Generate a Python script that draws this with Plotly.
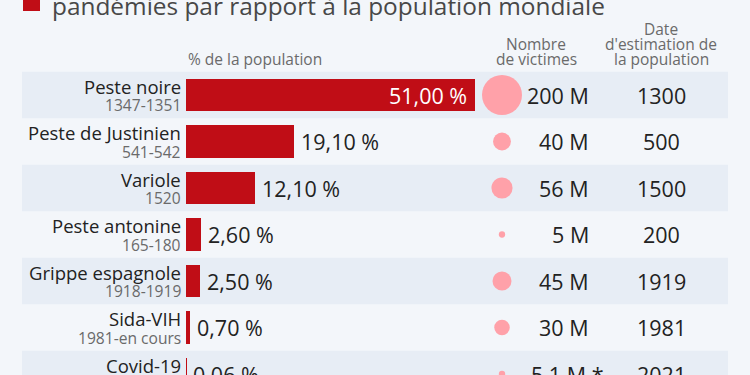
import plotly.graph_objects as go

# ---------------- data ----------------
categories = ["Peste noire", "Peste de Justinien", "Variole", "Peste antonine",
              "Grippe espagnole", "Sida-VIH", "Covid-19"]
periods = ["1347-1351", "541-542", "1520", "165-180", "1918-1919", "1981-en cours", "2020-2021"]
pct_population = [51.00, 19.10, 12.10, 2.60, 2.50, 0.70, 0.06]
victims_millions = [200, 40, 56, 5, 45, 30, 5.1]
victims_labels = ["200 M", "40 M", "56 M", "5 M", "45 M", "30 M", "5,1 M *"]
estimation_year = ["1300", "500", "1500", "200", "1919", "1981", "2021"]

title_text = "pandémies par rapport à la population mondiale"

# ---------------- style ----------------
W, H = 750, 375
BG = "#f3f6fa"
STRIPE = "#e7edf5"
RED = "#c00d16"
PINK = "#ffa1a9"
DARK = "#222222"
GREY = "#6a6a6a"
FONT = "Open Sans"

def px(x):
    return x / W

def py(y):
    return 1 - y / H

bar_left = 186
px_per_pct = 289 / 51.0
x_range_max = (W - bar_left) / px_per_pct

row0_center = 95
row_pitch = 46.5
n = len(categories)
y_top = -row0_center / row_pitch
y_bottom = (H - row0_center) / row_pitch

fig = go.Figure()

fig.add_trace(go.Bar(
    x=pct_population, y=categories, orientation="h",
    marker=dict(color=RED, line=dict(width=0)),
    width=0.7, hoverinfo="skip", showlegend=False,
))

fig.add_trace(go.Scatter(
    x=[502] * n, y=categories, xaxis="x2", yaxis="y",
    mode="markers",
    marker=dict(size=victims_millions, sizemode="area",
                sizeref=2 * max(victims_millions) / 40 ** 2,
                color=PINK, opacity=1, line=dict(width=0)),
    hoverinfo="skip", showlegend=False,
))

shapes = []
for i, c in enumerate(categories):
    if i % 2 == 0:
        shapes.append(dict(type="rect", xref="paper", yref="y",
                           x0=px(22), x1=px(728), y0=i - 0.5, y1=i + 0.5,
                           fillcolor=STRIPE, line=dict(width=0), layer="below"))
# red legend square for title
shapes.append(dict(type="rect", xref="paper", yref="paper",
                   x0=px(23), x1=px(40), y0=py(11), y1=py(-6),
                   fillcolor=RED, line=dict(width=0)))

ann = []
# title
ann.append(dict(text=title_text, xref="paper", yref="paper", x=px(50), y=py(24),
                xanchor="left", yanchor="bottom", showarrow=False,
                font=dict(family=FONT, size=24.4, color="#484848")))
# headers
def header(t, x, y, anchor="center"):
    ann.append(dict(text=t, xref="paper", yref="paper", x=px(x), y=py(y),
                    xanchor=anchor, yanchor="middle", showarrow=False,
                    font=dict(family=FONT, size=15.5, color=GREY)))
header("% de la population", 186, 59, "left")
header("Nombre", 536, 44)
header("de victimes", 536, 59)
header("Date", 661, 29)
header("d'estimation de", 661, 44)
header("la population", 661, 59)

for i, c in enumerate(categories):
    ann.append(dict(text=c, xref="paper", yref="y", x=px(183), y=c, yshift=9,
                    xanchor="right", yanchor="middle", showarrow=False,
                    font=dict(family=FONT, size=18.5, color=DARK)))
    ann.append(dict(text=periods[i], xref="paper", yref="y", x=px(183), y=c, yshift=-10,
                    xanchor="right", yanchor="middle", showarrow=False,
                    font=dict(family=FONT, size=15.6, color=GREY)))
    v = pct_population[i]
    label = f"{v:.2f}".replace(".", ",") + " %"
    inside = v > 30
    ann.append(dict(text=label, xref="x", yref="y", x=v, y=c,
                    xanchor="right" if inside else "left",
                    xshift=-7 if inside else 6, borderpad=0,
                    yanchor="middle", showarrow=False,
                    font=dict(family=FONT, size=21.5, color="white" if inside else DARK)))
    vl = victims_labels[i]
    ann.append(dict(text=vl, xref="x2", yref="y", x=591, y=c,
                    xshift=15 if vl.endswith("*") else 0,
                    xanchor="right", yanchor="middle", showarrow=False,
                    font=dict(family=FONT, size=21.5, color=DARK)))
    ann.append(dict(text=estimation_year[i], xref="x2", yref="y", x=661, y=c,
                    xanchor="center", yanchor="middle", showarrow=False,
                    font=dict(family=FONT, size=21.5, color=DARK)))

fig.update_layout(
    width=W, height=H,
    margin=dict(l=0, r=0, t=0, b=0),
    paper_bgcolor=BG, plot_bgcolor="rgba(0,0,0,0)",
    xaxis=dict(domain=[px(bar_left), 1], range=[0, x_range_max], visible=False, fixedrange=True),
    xaxis2=dict(domain=[0, 1], range=[0, W], visible=False, anchor="y", fixedrange=True),
    yaxis=dict(domain=[0, 1], type="category", categoryarray=categories,
               range=[y_bottom, y_top], visible=False, fixedrange=True),
    shapes=shapes, annotations=ann,
    bargap=0, showlegend=False,
)

fig.write_html(
    "out.html",
    config={"displayModeBar": False},
    post_script="document.body.style.margin='0';document.body.style.background='%s';"
                "document.body.style.overflow='hidden';" % BG,
)
